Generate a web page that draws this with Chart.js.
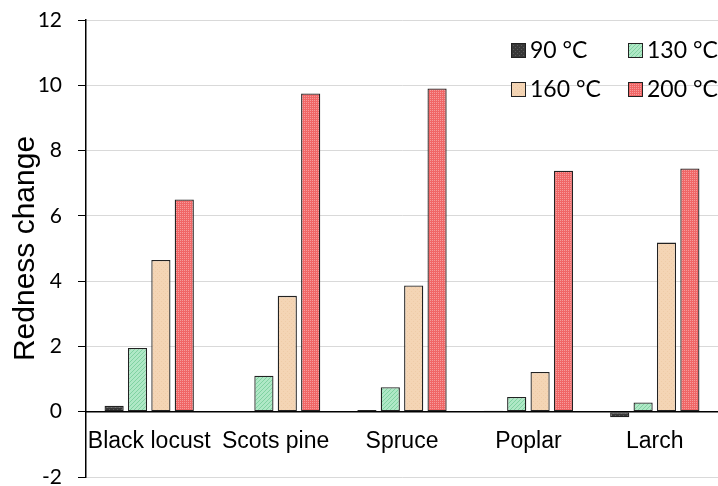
<!DOCTYPE html>
<html>
<head>
<meta charset="utf-8">
<script src="https://cdn.jsdelivr.net/npm/chart.js@4"></script>
<style>
  html, body { margin: 0; padding: 0; background: #fff; overflow: hidden; }
  #wrap { width: 718px; height: 486px; }
</style>
</head>
<body>
<div id="wrap"><canvas id="chart" width="718" height="486"></canvas></div>
<script>
// wood species and treatment temperatures
const species = ['Black locust', 'Scots pine', 'Spruce', 'Poplar', 'Larch'];
const temps = ['90 °C', '130 °C', '160 °C', '200 °C'];

// redness change
const t90 = [0.18, 0.02, 0.05, 0.03, -0.17];
const t130 = [1.95, 1.1, 0.75, 0.45, 0.28];
const t160 = [4.65, 3.55, 3.87, 1.22, 5.18];
const t200 = [6.5, 9.75, 9.9, 7.38, 7.45];

const yTicks = [-2, 0, 2, 4, 6, 8, 10, 12];

function makePattern(base, fg, kind) {
  const c = document.createElement('canvas');
  c.width = 4; c.height = 4;
  const g = c.getContext('2d');
  g.fillStyle = base;
  g.fillRect(0, 0, 4, 4);
  g.fillStyle = fg;
  if (kind === 'diag') {
    for (let i = 0; i < 4; i++) g.fillRect(i, 3 - i, 1, 1);
  } else if (kind === 'check') {
    g.fillRect(0, 0, 1, 1); g.fillRect(2, 2, 1, 1);
    g.fillRect(2, 0, 1, 1); g.fillRect(0, 2, 1, 1);
  } else if (kind === 'dots') {
    g.fillRect(1, 1, 1, 1); g.fillRect(3, 3, 1, 1);
  }
  return g.createPattern(c, 'repeat');
}

const fills = [
  makePattern('#383838', '#5a5a5a', 'dots'),
  makePattern('#afe8c6', '#80d2a2', 'diag'),
  makePattern('#f4d5b5', '#efcca8', 'dots'),
  makePattern('#f06666', '#f59c9c', 'check')
];
const series = [t90, t130, t160, t200];

// 2x2 legend in the top right corner
const legendPlugin = {
  id: 'gridLegend',
  afterDraw(chart) {
    const ctx = chart.ctx;
    const cols = [511, 628];
    const rows = [50, 89];
    ctx.save();
    ctx.font = '23px Lato, "Open Sans", sans-serif';
    ctx.textBaseline = 'middle';
    temps.forEach((t, i) => {
      const x = cols[i % 2], y = rows[Math.floor(i / 2)];
      ctx.fillStyle = fills[i];
      ctx.fillRect(x, y - 7, 15, 15);
      ctx.strokeStyle = '#222';
      ctx.lineWidth = 1;
      ctx.strokeRect(x + 0.5, y - 6.5, 14, 14);
      ctx.fillStyle = '#000';
      ctx.fillText(t, x + 19, y + 1);
    });
    ctx.restore();
  }
};

new Chart(document.getElementById('chart'), {
  type: 'bar',
  data: {
    labels: species,
    datasets: series.map((vals, i) => ({
      label: temps[i],
      data: vals,
      backgroundColor: fills[i],
      borderColor: '#222',
      borderWidth: 1.3,
      borderSkipped: false,
      categoryPercentage: 0.74,
      barPercentage: 0.82
    }))
  },
  options: {
    responsive: false,
    animation: false,
    layout: { padding: { top: 20, right: 0, bottom: 9, left: 8 } },
    plugins: {
      legend: { display: false },
      tooltip: { enabled: false }
    },
    scales: {
      x: {
        position: { y: 0 },
        afterFit: axis => { axis.paddingLeft = 0; axis.paddingRight = 0; },
        grid: { display: false, drawTicks: false },
        border: { color: '#000', width: 1.5 },
        ticks: {
          color: '#000',
          padding: 16,
          maxRotation: 0,
          minRotation: 0,
          autoSkip: false,
          font: { family: '"Liberation Sans", Arial, sans-serif', size: 23 }
        }
      },
      y: {
        min: -2,
        max: 12,
        afterBuildTicks: axis => { axis.ticks = yTicks.map(v => ({ value: v })); },
        afterFit: axis => {
          axis.paddingTop = 0;
          axis.paddingBottom = 0;
          axis.width = 78;
        },
        grid: { color: '#d9d9d9', tickColor: '#000', tickLength: 8 },
        border: { color: '#000', width: 1.5 },
        ticks: {
          color: '#000',
          padding: 16,
          font: { family: 'Lato, "Open Sans", sans-serif', size: 21 }
        },
        title: {
          display: true,
          text: 'Redness change',
          color: '#000',
          padding: { top: 0, bottom: 0 },
          font: { family: '"Liberation Sans", Arial, sans-serif', size: 30 }
        }
      }
    }
  },
  plugins: [legendPlugin]
});
</script>
</body>
</html>
